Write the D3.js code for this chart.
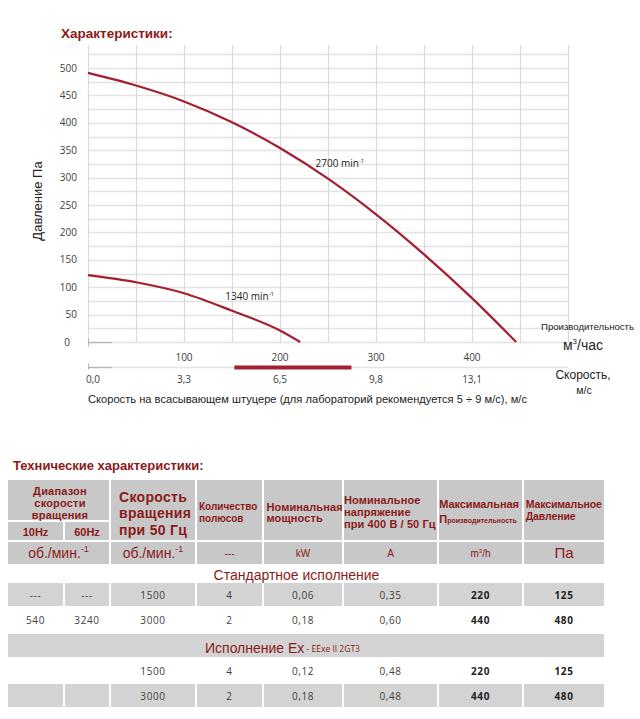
<!DOCTYPE html>
<html><head><meta charset="utf-8">
<script src="https://cdn.jsdelivr.net/npm/d3@7/dist/d3.min.js"></script>
<style>body{margin:0;background:#fff}svg{display:block}</style>
</head><body>
<svg id="c" width="640" height="719"></svg>
<script>
// ---------- chart data ----------
const pressureTicks = [0, 50, 100, 150, 200, 250, 300, 350, 400, 450, 500];
const flowTicks = [100, 200, 300, 400];
const speedTickFlows = [0, 100, 200, 300, 400];
const speedTickLabels = ["0,0", "3,3", "6,5", "9,8", "13,1"];
const recommendedSpeed = [5, 9];          // m/s
const speedPerFlow = 0.0328;

const curve2700Flow = [0, 50, 100, 150, 200, 250, 300, 350, 400, 446];
const curve2700Pres = [491, 468, 439, 401, 354, 298, 233, 160, 80, 0];
const curve1340Flow = [0, 50, 100, 150, 200, 221];
const curve1340Pres = [122, 109, 89, 57, 21, 0];
const curveLabels = [
  {text: "2700 min", flow: 237, pres: 320},
  {text: "1340 min", flow: 143, pres: 77}
];

// ---------- table data ----------
const headRange = ["Диапазон", "скорости", "вращения"];
const headHz = ["10Hz", "60Hz"];
const headSpeed = ["Скорость", "вращения", "при 50 Гц"];
const headPoles = ["Количество", "полюсов"];
const headPower = ["Номинальная", "мощность"];
const headVoltage = ["Номинальное", "напряжение", "при 400 В / 50 Гц"];
const headFlow = ["Максимальная", "Производительность"];
const headPressure = ["Максимальное", "Давление"];
const unitsRow = ["об./мин.", "об./мин.", "---", "kW", "A", "m³/h", "Па"];
const sectionStd = "Стандартное исполнение";
const sectionEx = ["Исполнение Ex", " - EExe II 2GT3"];
const stdRows = [
  ["---", "---", "1500", "4", "0,06", "0,35", "220", "125"],
  ["540", "3240", "3000", "2", "0,18", "0,60", "440", "480"]
];
const exRows = [
  ["", "", "1500", "4", "0,12", "0,48", "220", "125"],
  ["", "", "3000", "2", "0,18", "0,48", "440", "480"]
];

// ---------- drawing ----------
const svg = d3.select("#c");
const RED = "#8b1a1a", CURVE = "#a31f32", TXT = "#404040";
const x = d3.scaleLinear().domain([0, 500]).range([88, 568]);
const y = d3.scaleLinear().domain([0, 500]).range([342, 68]);

// title
svg.append("text").attr("x", 61).attr("y", 37.5)
  .attr("font-family", "Liberation Sans, Arial, sans-serif").attr("font-weight", "bold")
  .attr("font-size", 13.5).attr("fill", RED).text("Характеристики:");

// grid
const g = svg.append("g");
g.selectAll("line.h").data(d3.range(0, 526, 25)).join("line")
  .attr("x1", x(0)).attr("x2", x(500)).attr("y1", d => Math.round(y(d)) + 0.5).attr("y2", d => Math.round(y(d)) + 0.5)
  .attr("stroke", "#e2e2e2").attr("stroke-width", 1.3);
g.selectAll("line.v").data(d3.range(0, 501, 50)).join("line")
  .attr("x1", d => Math.round(x(d)) + 0.5).attr("x2", d => Math.round(x(d)) + 0.5)
  .attr("y1", y(0)).attr("y2", y(541))
  .attr("stroke", "#d9d9d9").attr("stroke-width", 1.2);

// base axis stubs
const y0 = Math.round(y(0)) + 0.5;
g.append("line").attr("x1", x(0)).attr("x2", x(25)).attr("y1", y0).attr("y2", y0).attr("stroke", "#b5b5b5").attr("stroke-width", 1.3);
g.append("line").attr("x1", x(0) + 0.5).attr("x2", x(0) + 0.5).attr("y1", y0 - 4).attr("y2", y0 + 4).attr("stroke", "#b5b5b5");

// y tick labels
svg.append("g").selectAll("text").data(pressureTicks).join("text")
  .attr("x", d => d === 0 ? 70 : 77).attr("y", d => y(d)).attr("dy", "0.35em")
  .attr("text-anchor", "end").attr("font-family", "Open Sans, sans-serif").attr("font-size", 10)
  .attr("fill", TXT).text(d => d);

// y label
svg.append("text").attr("transform", "translate(42,201) rotate(-90)")
  .attr("text-anchor", "middle").attr("font-family", "Liberation Sans, Arial, sans-serif")
  .attr("font-size", 13).attr("fill", "#222").text("Давление Па");

// curves
const line = d3.line().x(d => x(d[0])).y(d => y(d[1])).curve(d3.curveMonotoneX);
svg.append("path").attr("d", line(d3.zip(curve2700Flow, curve2700Pres)))
  .attr("fill", "none").attr("stroke", CURVE).attr("stroke-width", 2.2);
svg.append("path").attr("d", line(d3.zip(curve1340Flow, curve1340Pres)))
  .attr("fill", "none").attr("stroke", CURVE).attr("stroke-width", 2.2);

curveLabels.forEach(l => {
  const t = svg.append("text").attr("x", x(l.flow)).attr("y", y(l.pres))
    .attr("font-family", "Open Sans, sans-serif").attr("font-size", 10).attr("fill", "#222");
  t.append("tspan").text(l.text);
  t.append("tspan").attr("font-size", 6).attr("dy", -4).text("-1");
});

// flow tick labels (between axes)
svg.append("g").selectAll("text").data(flowTicks).join("text")
  .attr("x", d => x(d)).attr("y", 357.5).attr("dy", "0.35em").attr("text-anchor", "middle")
  .attr("font-family", "Open Sans, sans-serif").attr("font-size", 10).attr("fill", TXT).text(d => d);

// speed axis line
const ys = 367.5;
g.append("line").attr("x1", x(0)).attr("x2", x(500)).attr("y1", ys).attr("y2", ys).attr("stroke", "#e4e4e4").attr("stroke-width", 1.3);
g.append("line").attr("x1", x(0)).attr("x2", x(25)).attr("y1", ys).attr("y2", ys).attr("stroke", "#b5b5b5").attr("stroke-width", 1.3);
g.append("line").attr("x1", x(0) + 0.5).attr("x2", x(0) + 0.5).attr("y1", ys - 4).attr("y2", ys + 2).attr("stroke", "#b5b5b5");
svg.append("line")
  .attr("x1", x(recommendedSpeed[0] / speedPerFlow)).attr("x2", x(recommendedSpeed[1] / speedPerFlow))
  .attr("y1", ys).attr("y2", ys).attr("stroke", CURVE).attr("stroke-width", 4);

svg.append("g").selectAll("text").data(speedTickFlows).join("text")
  .attr("x", (d, i) => x(d) + (i === 0 ? 5 : 0)).attr("y", 379.5).attr("dy", "0.35em").attr("text-anchor", "middle")
  .attr("font-family", "Open Sans, sans-serif").attr("font-size", 10).attr("fill", TXT)
  .text((d, i) => speedTickLabels[i]);

// right side labels
svg.append("text").attr("x", 587.5).attr("y", 327).attr("dy", "0.35em").attr("text-anchor", "middle")
  .attr("font-family", "Liberation Sans, Arial, sans-serif").attr("font-size", 9).attr("fill", "#222")
  .attr("textLength", 93).attr("lengthAdjust", "spacingAndGlyphs")
  .text("Производительность");
const mh = svg.append("text").attr("x", 583).attr("y", 345).attr("dy", "0.35em").attr("text-anchor", "middle")
  .attr("font-family", "Liberation Sans, Arial, sans-serif").attr("font-size", 14).attr("fill", "#222");
mh.append("tspan").text("м");
mh.append("tspan").attr("font-size", 8).attr("dy", -6).text("3");
mh.append("tspan").attr("dy", 6).text("/час");
svg.append("text").attr("x", 583).attr("y", 375).attr("dy", "0.35em").attr("text-anchor", "middle")
  .attr("font-family", "Liberation Sans, Arial, sans-serif").attr("font-size", 12).attr("fill", "#222").text("Скорость,");
svg.append("text").attr("x", 584).attr("y", 390.5).attr("dy", "0.35em").attr("text-anchor", "middle")
  .attr("font-family", "Liberation Sans, Arial, sans-serif").attr("font-size", 10.5).attr("fill", "#222").text("м/с");

// x title
svg.append("text").attr("x", 88).attr("y", 398.5).attr("dy", "0.35em")
  .attr("font-family", "Liberation Sans, Arial, sans-serif").attr("font-size", 11.5).attr("fill", "#222")
  .attr("textLength", 439).attr("lengthAdjust", "spacingAndGlyphs")
  .text("Скорость на всасывающем штуцере (для лабораторий рекомендуется 5 ÷ 9 м/с), м/с");

// ---------- table ----------
svg.append("text").attr("x", 13).attr("y", 469.5)
  .attr("font-family", "Liberation Sans, Arial, sans-serif").attr("font-weight", "bold")
  .attr("font-size", 13).attr("fill", RED).text("Технические характеристики:");

const E = [7, 64, 110, 196, 263, 343, 438, 523, 605];
const HEAD = "#c8c8c8", ROW = "#d3d3d3";
const T = svg.append("g");
function cell(x0, x1, y0, y1, fill) {
  if (fill === "#fff") return;
  T.append("rect").attr("x", x0 + 1).attr("y", y0 + 1).attr("width", x1 - x0 - 2).attr("height", y1 - y0 - 2).attr("fill", fill);
}
// header cells
cell(E[0], E[2], 479, 521, HEAD);
cell(E[0], E[1], 521, 541, HEAD);
cell(E[1], E[2], 521, 541, HEAD);
for (let i = 2; i < 8; i++) cell(E[i], E[i + 1], 479, 541, HEAD);
cell(E[0], E[2], 541, 565, HEAD);
for (let i = 2; i < 8; i++) cell(E[i], E[i + 1], 541, 565, HEAD);

const HF = "Liberation Sans, Arial, sans-serif";
function lines(arr, xx, ys, size, anchor, weight, ls) {
  arr.forEach((s, i) => {
    T.append("text").attr("x", xx).attr("y", ys[i]).attr("dy", "0.35em").attr("text-anchor", anchor)
      .attr("font-family", HF).attr("font-weight", weight).attr("font-size", size)
      .attr("letter-spacing", ls || 0).attr("fill", RED).text(s);
  });
}
lines(headRange, 60, [490.7, 503, 515.2], 11, "middle", "bold", 0.2);
lines([headHz[0]], 35.5, [531.7], 11, "middle", "bold");
lines([headHz[1]], 87, [531.7], 11, "middle", "bold");
lines(headSpeed, 119, [497, 513.5, 530], 14, "start", "bold", 0.3);
lines(headPoles, 199, [506.7, 518.3], 10, "start", "bold");
lines(headPower, 266.5, [506.7, 518.3], 11, "start", "bold", 0.1);
lines(headVoltage, 344, [500, 512, 524], 11, "start", "bold", 0.1);
lines([headFlow[0]], 439.3, [504], 11, "start", "bold", -0.1);
{
  const t = T.append("text").attr("x", 439.3).attr("y", 517.7).attr("dy", "0.35em")
    .attr("font-family", HF).attr("font-weight", "bold").attr("fill", RED);
  t.append("tspan").attr("font-size", 11).text(headFlow[1][0]);
  t.append("tspan").attr("font-size", 7).text(headFlow[1].slice(1));
}
lines(headPressure, 525.7, [504, 516], 10.5, "start", "bold", -0.1);

// units row
const unitCenters = [(E[0] + E[2]) / 2, (E[2] + E[3]) / 2, (E[3] + E[4]) / 2, (E[4] + E[5]) / 2, (E[5] + E[6]) / 2, (E[6] + E[7]) / 2, (E[7] + E[8]) / 2];
unitsRow.forEach((u, i) => {
  const t = T.append("text").attr("x", unitCenters[i]).attr("y", 553).attr("dy", "0.35em")
    .attr("text-anchor", "middle").attr("font-family", HF).attr("fill", RED);
  if (i < 2) {
    t.attr("font-size", 14);
    t.append("tspan").text(u);
    t.append("tspan").attr("font-size", 9).attr("dy", -6).text("-1");
  } else if (u === "m³/h") {
    t.attr("font-size", 10);
    t.append("tspan").text("m");
    t.append("tspan").attr("font-size", 6).attr("dy", -4).text("3");
    t.append("tspan").attr("dy", 4).text("/h");
  } else if (u === "Па") {
    t.attr("font-size", 15).text(u);
  } else {
    t.attr("font-size", 10).text(u);
  }
});

// section: standard
T.append("text").attr("x", 296.5).attr("y", 575).attr("dy", "0.35em").attr("text-anchor", "middle")
  .attr("font-family", HF).attr("font-size", 14).attr("fill", RED).text(sectionStd);

const colCenters = d3.range(8).map(i => (E[i] + E[i + 1]) / 2);
function dataRow(row, y0, y1, fill) {
  for (let i = 0; i < 8; i++) cell(E[i], E[i + 1], y0, y1, fill);
  row.forEach((v, i) => {
    if (!v) return;
    T.append("text").attr("x", colCenters[i]).attr("y", (y0 + y1) / 2 + 0.5).attr("dy", "0.35em")
      .attr("text-anchor", "middle").attr("font-family", "Open Sans, sans-serif")
      .attr("font-size", 10).attr("letter-spacing", 0.6)
      .attr("font-weight", i >= 6 ? "bold" : "normal")
      .attr("fill", i >= 6 ? "#222" : TXT).text(v);
  });
}
dataRow(stdRows[0], 582, 607, ROW);
dataRow(stdRows[1], 607, 633, "#fff");
cell(E[0], E[8], 633, 658, ROW);
{
  const t = T.append("text").attr("x", 205).attr("y", 647).attr("dy", "0.35em")
    .attr("font-family", HF).attr("fill", RED);
  t.append("tspan").attr("font-size", 14).text(sectionEx[0]);
  t.append("tspan").attr("font-family", "Open Sans, sans-serif").attr("font-size", 8.5).attr("dy", -1).text(sectionEx[1]);
}
dataRow(exRows[0], 658, 683, "#fff");
dataRow(exRows[1], 683, 708, ROW);
</script>
</body></html>
